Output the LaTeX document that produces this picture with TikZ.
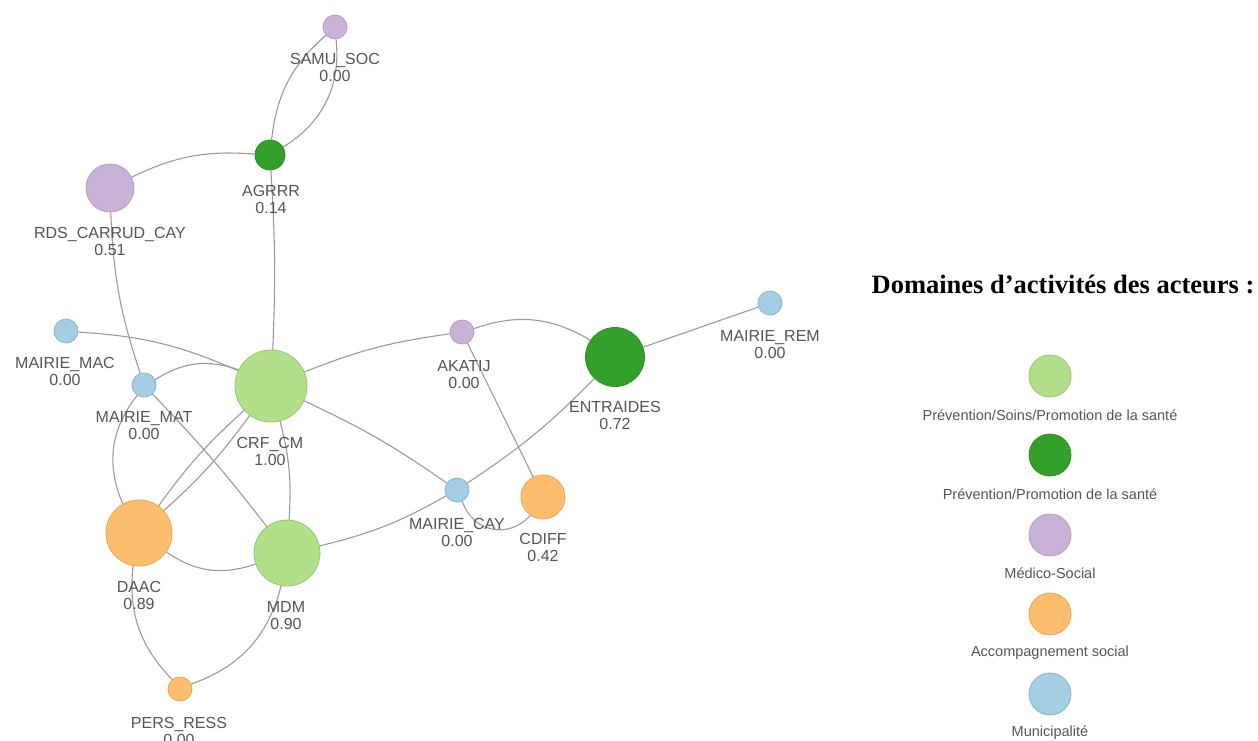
\documentclass[tikz,border=0pt]{standalone}
\usepackage{fontspec}
\setmainfont{Liberation Sans}
\newfontfamily\titlefont{Liberation Serif}
\definecolor{cLG}{HTML}{B2DF8A}\definecolor{cLGd}{HTML}{92C86C}
\definecolor{cDG}{HTML}{33A02C}\definecolor{cDGd}{HTML}{2B8E25}
\definecolor{cPU}{HTML}{CAB2D6}\definecolor{cPUd}{HTML}{B39CC4}
\definecolor{cOR}{HTML}{FDBF6F}\definecolor{cORd}{HTML}{E9A550}
\definecolor{cBL}{HTML}{A6CEE3}\definecolor{cBLd}{HTML}{86B4CF}
\definecolor{edgegray}{HTML}{9A9A9A}
\definecolor{labelgray}{HTML}{555555}
\begin{document}
\begin{tikzpicture}[x=1pt,y=-1pt,
  conn/.style={draw=edgegray, line width=1.1pt},
  nd/.style={circle, inner sep=0pt, line width=0.8pt},
  lgreen/.style={nd, fill=cLG, draw=cLGd},
  dgreen/.style={nd, fill=cDG, draw=cDGd},
  purp/.style={nd, fill=cPU, draw=cPUd},
  orng/.style={nd, fill=cOR, draw=cORd},
  blu/.style={nd, fill=cBL, draw=cBLd},
  lbl/.style={font=\fontsize{16}{17}\selectfont, text=labelgray, align=center, inner sep=0pt},
  leg/.style={font=\fontsize{14.5}{16}\selectfont, text=labelgray, inner sep=0pt}]
\useasboundingbox (0,0) rectangle (1258,740);
\clip (0,0) rectangle (1258,740);
% nodes
\node[purp, minimum size=24pt] (samu) at (335,27) {};
\node[dgreen, minimum size=30pt] (agrrr) at (270,155) {};
\node[purp, minimum size=48pt] (rds) at (110,188) {};
\node[blu, minimum size=24pt] (mac) at (66,331) {};
\node[blu, minimum size=24pt] (mat) at (144,385) {};
\node[lgreen, minimum size=72pt] (crf) at (271,386) {};
\node[purp, minimum size=24pt] (akatij) at (462,332) {};
\node[dgreen, minimum size=59pt] (entr) at (615,357) {};
\node[blu, minimum size=24pt] (rem) at (770,303) {};
\node[blu, minimum size=24pt] (cay) at (457,490) {};
\node[orng, minimum size=44pt] (cdiff) at (543,497) {};
\node[orng, minimum size=66pt] (daac) at (139,533) {};
\node[lgreen, minimum size=66pt] (mdm) at (287,553) {};
\node[orng, minimum size=24pt] (pers) at (180,689) {};
% edges
\draw[conn] (samu) to[bend right=21] (agrrr);
\draw[conn] (samu) to[bend left=32] (agrrr);
\draw[conn] (rds) to[bend left=15] (agrrr);
\draw[conn] (agrrr) to[bend left=3] (crf);
\draw[conn] (rds) to[bend right=8] (mat);
\draw[conn] (mac) to[bend left=10] (crf);
\draw[conn] (mat) to[bend left=26] (crf);
\draw[conn] (mat) to[bend right=31] (daac);
\draw[conn] (mat) to[bend left=3] (mdm);
\draw[conn] (crf) to[bend right=6] (daac);
\draw[conn] (crf) to[bend left=6] (daac);
\draw[conn] (crf) to[bend left=9] (mdm);
\draw[conn] (crf) to[bend left=7] (akatij);
\draw[conn] (crf) to[bend left=5] (cay);
\draw[conn] (akatij) to[bend left=25] (entr);
\draw[conn] (akatij) -- (cdiff);
\draw[conn] (entr) -- (rem);
\draw[conn] (entr) to[bend left=6] (cay);
\draw[conn] (cay) to[bend right=60, looseness=1.2] (cdiff);
\draw[conn] (mdm) to[bend right=8] (cay);
\draw[conn] (daac) to[bend right=27] (mdm);
\draw[conn] (daac) to[bend right=25] (pers);
\draw[conn] (mdm) to[bend left=28] (pers);
% labels
\node[lbl] (samuL) at (335,67.5) {SAMU\_SOC\\0.00};
\node[lbl] (agrrrL) at (271,199.5) {AGRRR\\0.14};
\node[lbl] (rdsL) at (110,241.5) {RDS\_CARRUD\_CAY\\0.51};
\node[lbl] (macL) at (65,371.5) {MAIRIE\_MAC\\0.00};
\node[lbl] (matL) at (144,425.5) {MAIRIE\_MAT\\0.00};
\node[lbl] (crfL) at (270,451.5) {CRF\_CM\\1.00};
\node[lbl] (akatijL) at (464,374.5) {AKATIJ\\0.00};
\node[lbl] (entrL) at (615,415.5) {ENTRAIDES\\0.72};
\node[lbl] (remL) at (770,344.5) {MAIRIE\_REM\\0.00};
\node[lbl] (cayL) at (457,532.5) {MAIRIE\_CAY\\0.00};
\node[lbl] (cdiffL) at (543,547.5) {CDIFF\\0.42};
\node[lbl] (daacL) at (139,595.5) {DAAC\\0.89};
\node[lbl] (mdmL) at (286,615.5) {MDM\\0.90};
\node[lbl] (persL) at (179,731.5) {PERS\_RESS\\0.00};
% legend
\node[anchor=base, inner sep=0pt, font=\titlefont\bfseries\fontsize{26.5}{30}\selectfont] (title) at (1063,293) {Domaines d’activités des acteurs :};
\node[lgreen, minimum size=42pt] (lg1) at (1050,376) {};
\node[dgreen, minimum size=42pt] (lg2) at (1050,455) {};
\node[purp, minimum size=42pt] (lg3) at (1050,535) {};
\node[orng, minimum size=42pt] (lg4) at (1050,614) {};
\node[blu, minimum size=42pt] (lg5) at (1050,694) {};
\node[leg] (lt1) at (1050,415) {Prévention/Soins/Promotion de la santé};
\node[leg] (lt2) at (1050,494) {Prévention/Promotion de la santé};
\node[leg] (lt3) at (1050,573) {Médico-Social};
\node[leg] (lt4) at (1050,653) {Accompagnement social};
\node[leg] (lt5) at (1050,733) {Municipalité};
\end{tikzpicture}
\end{document}
